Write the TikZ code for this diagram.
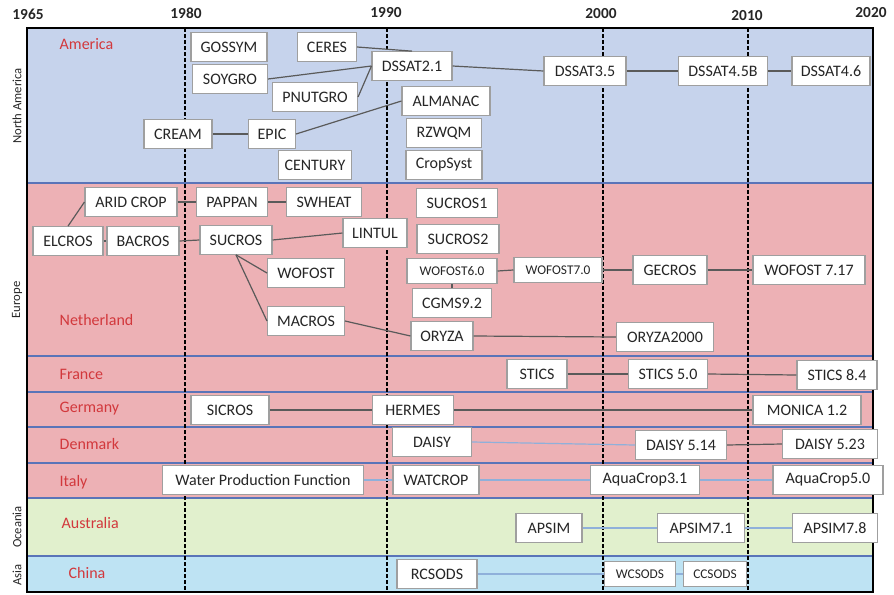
\documentclass[tikz,border=0pt]{standalone}
\usepackage{fontspec}
\setmainfont{Carlito}
\usepackage{xcolor}
\usepackage{tikz}
\usetikzlibrary{positioning}
\definecolor{namerica}{HTML}{C6D3EC}
\definecolor{europe}{HTML}{EDB1B5}
\definecolor{oceania}{HTML}{E1F0CD}
\definecolor{asia}{HTML}{BEE3F3}
\definecolor{bandline}{HTML}{5A74B8}
\definecolor{regionred}{HTML}{D2383C}
\definecolor{linkgray}{HTML}{5A5A5A}
\definecolor{linkblue}{HTML}{8FB0DA}
\definecolor{boxtext}{HTML}{262626}

\begin{document}
\begin{tikzpicture}[
        x=0.75pt, y=-0.75pt,
        model/.style={rectangle, draw=gray!75, line width=0.8pt, fill=white, minimum height=21.5pt, minimum width=0.75pt*#1, inner sep=1pt, font=\fontsize{12}{14}\selectfont, text=boxtext},
        model/.default=70,
        smalltext/.style={font=\fontsize{10}{12}\selectfont, minimum height=19pt},
        region/.style={anchor=west, text=regionred, font=\fontsize{12}{14}\selectfont},
        continent/.style={rotate=90, text=boxtext, font=\fontsize{9.5}{11}\selectfont},
        year/.style={text=boxtext, font=\bfseries\fontsize{11.5}{13}\selectfont},
        link/.style={draw=linkgray, line width=0.9pt},
        bluelink/.style={draw=linkblue, line width=0.9pt},
        era/.style={dash pattern=on 3pt off 1.5pt, line width=1.3pt}
    ]
        \useasboundingbox (0,0) rectangle (894,594);
        % continents and countries
        \fill[namerica] (27,28) rectangle (873,183);
        \fill[europe] (27,183) rectangle (873,498);
        \fill[oceania] (27,498) rectangle (873,556);
        \fill[asia] (27,556) rectangle (873,592);
        \foreach \y in {183,356,392,427,463,498,556}
            \draw[bandline, line width=1pt] (27,\y) -- (873,\y);
        \foreach \x in {185,387,603,748}
            \draw[era] (\x,28) -- (\x,592);
        \draw[line width=1.6pt] (27,28) rectangle (873,592);
        % time axis
        \foreach \yr/\x/\y in {1965/28/14, 1980/186/13, 1990/386/13, 2000/601/14, 2010/747/16, 2020/871/13}
            \node[year] (y\yr) at (\x,\y) {\yr};
        \node[continent] (lnamerica) at (17,106) {North America};
        \node[continent] (leurope) at (17,300) {Europe};
        \node[continent] (loceania) at (17,527) {Oceania};
        \node[continent] (lasia) at (17,575) {Asia};
        \node[region] (lamerica) at (55,44) {America};
        \node[region] (lnetherland) at (55,320) {Netherland};
        \node[region] (lfrance) at (55,374) {France};
        \node[region] (lgermany) at (55,409) {Germany};
        \node[region] (ldenmark) at (55,444) {Denmark};
        \node[region] (litaly) at (55,482) {Italy};
        \node[region] (laustralia) at (57,523) {Australia};
        \node[region] (lchina) at (64,573) {China};

        % America
        \node[model=76] (gossym) at (229,47) {GOSSYM};
        \node[model=59] (ceres) at (327,47) {CERES};
        \node[model=75] (soygro) at (230,79) {SOYGRO};
        \node[model=80] (dssat21) at (412,66) {DSSAT2.1};
        \node[model=85] (pnutgro) at (315,97) {PNUTGRO};
        \node[model=88] (almanac) at (446,101) {ALMANAC};
        \node[model=68] (cream) at (178,134) {CREAM};
        \node[model=47] (epic) at (272,134) {EPIC};
        \node[model=75] (rzwqm) at (444,133) {RZWQM};
        \node[model=73] (century) at (315,165) {CENTURY};
        \node[model=76] (cropsyst) at (444,165) {CropSyst};
        \node[model=82] (dssat35) at (585,71) {DSSAT3.5};
        \node[model=89] (dssat45b) at (723,71) {DSSAT4.5B};
        \node[model=78] (dssat46) at (831,71) {DSSAT4.6};
        \draw[link] (ceres.east) -- (dssat21.north);
        \draw[link] (soygro.east) -- (dssat21.west);
        \draw[link] (pnutgro.east) -- (dssat21.west);
        \draw[link] (cream.east) -- (epic.west);
        \draw[link] (epic.east) -- (almanac.west);
        \draw[link] (dssat21.east) -- (dssat35.west);
        \draw[link] (dssat35.east) -- (dssat45b.west);
        \draw[link] (dssat45b.east) -- (dssat46.west);

        % Netherland
        \node[model=92] (aridcrop) at (131,202) {ARID CROP};
        \node[model=71] (pappan) at (232,202) {PAPPAN};
        \node[model=75] (swheat) at (324,202) {SWHEAT};
        \node[model=70] (elcros) at (68,241) {ELCROS};
        \node[model=72] (bacros) at (143,241) {BACROS};
        \node[model=72] (sucros) at (236,240) {SUCROS};
        \node[model=64] (lintul) at (375,233) {LINTUL};
        \node[model=77] (wofost) at (306,273) {WOFOST};
        \node[model=77] (macros) at (306,321) {MACROS};
        \node[model=81] (sucros1) at (457,203) {SUCROS1};
        \node[model=82] (sucros2) at (458,239) {SUCROS2};
        \node[model=90, smalltext] (wofost60) at (452,271) {WOFOST6.0};
        \node[model=79] (cgms) at (452,303) {CGMS9.2};
        \node[model=62] (oryza) at (442,336) {ORYZA};
        \node[model=88, smalltext] (wofost70) at (558,270) {WOFOST7.0};
        \node[model=74] (gecros) at (670,270) {GECROS};
        \node[model=112] (wofost717) at (809,270) {WOFOST 7.17};
        \node[model=97] (oryza2000) at (665,337) {ORYZA2000};
        \draw[link] (elcros.north) -- (aridcrop.west);
        \draw[link] (elcros.east) -- (bacros.west);
        \draw[link] (aridcrop.east) -- (pappan.west);
        \draw[link] (pappan.east) -- (swheat.west);
        \draw[link] (bacros.east) -- (sucros.west);
        \draw[link] (sucros.east) -- (lintul.west);
        \draw[link] (sucros.south) -- (wofost.west);
        \draw[link] (sucros.south) -- (macros.west);
        \draw[link] (macros.east) -- (oryza.west);
        \draw[link] (wofost60.south) -- (cgms.north);
        \draw[link] (wofost60.east) -- (wofost70.west);
        \draw[link] (wofost70.east) -- (gecros.west);
        \draw[link] (gecros.east) -- (wofost717.west);
        \draw[link] (oryza.east) -- (oryza2000.west);

        % France
        \node[model=60] (stics) at (537,374) {STICS};
        \node[model=79] (stics50) at (668,374) {STICS 5.0};
        \node[model=80] (stics84) at (837,375) {STICS 8.4};
        \draw[link] (stics.east) -- (stics50.west);
        \draw[link] (stics50.east) -- (stics84.west);

        % Germany
        \node[model=78] (sicros) at (230,410) {SICROS};
        \node[model=81] (hermes) at (413,410) {HERMES};
        \node[model=108] (monica) at (807,410) {MONICA 1.2};
        \draw[link] (sicros.east) -- (hermes.west);
        \draw[link] (hermes.east) -- (monica.west);

        % Denmark
        \node[model=79] (daisy) at (432,442) {DAISY};
        \node[model=91] (daisy514) at (681,445) {DAISY 5.14};
        \node[model=95] (daisy523) at (830,444) {DAISY 5.23};
        \draw[bluelink] (daisy.east) -- (daisy514.west);
        \draw[link] (daisy514.east) -- (daisy523.west);

        % Italy
        \node[model=201] (wpf) at (263,480) {Water Production Function};
        \node[model=86] (watcrop) at (436,480) {WATCROP};
        \node[model=109] (aquacrop31) at (645,480) {AquaCrop3.1};
        \node[model=110] (aquacrop50) at (828,480) {AquaCrop5.0};
        \draw[bluelink] (wpf.east) -- (watcrop.west);
        \draw[bluelink] (watcrop.east) -- (aquacrop31.west);
        \draw[bluelink] (aquacrop31.east) -- (aquacrop50.west);

        % Australia
        \node[model=66] (apsim) at (549,528) {APSIM};
        \node[model=87] (apsim71) at (701,528) {APSIM7.1};
        \node[model=85] (apsim78) at (835,528) {APSIM7.8};
        \draw[bluelink] (apsim.east) -- (apsim71.west);
        \draw[bluelink] (apsim71.east) -- (apsim78.west);

        % China
        \node[model=80] (rcsods) at (437,574) {RCSODS};
        \node[model=71, smalltext] (wcsods) at (640,574) {WCSODS};
        \node[model=63, smalltext] (ccsods) at (715,574) {CCSODS};
        \draw[bluelink] (rcsods.east) -- (wcsods.west);
        \draw[bluelink] (wcsods.east) -- (ccsods.west);
    \end{tikzpicture}
\end{document}
